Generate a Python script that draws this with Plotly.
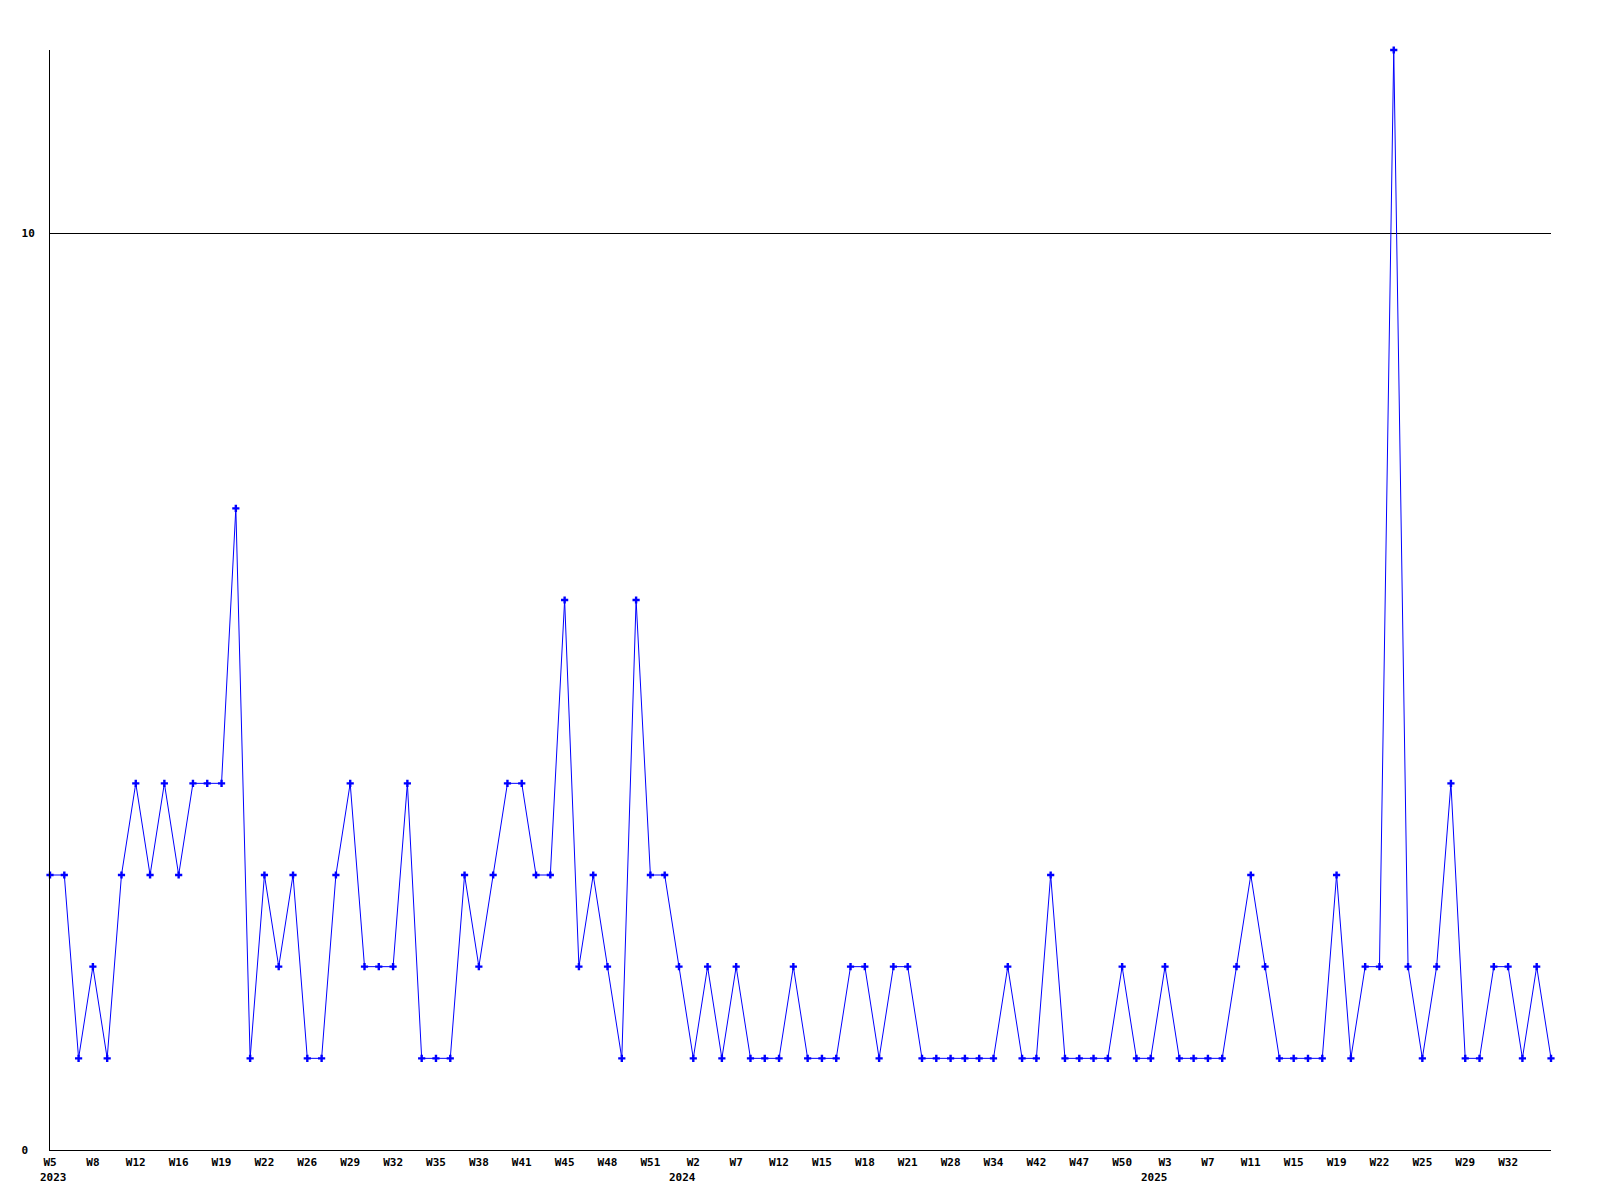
import plotly.graph_objects as go

# Weekly values (one point per reported week; weeks without data are skipped)
values = [
    3, 3, 1, 2, 1, 3, 4, 3, 4, 3, 4, 4, 4, 7, 1, 3, 2, 3, 1, 1,
    3, 4, 2, 2, 2, 4, 1, 1, 1, 3, 2, 3, 4, 4, 3, 3, 6, 2, 3, 2,
    1, 6, 3, 3, 2, 1, 2, 1, 2, 1, 1, 1, 2, 1, 1, 1, 2, 2, 1, 2,
    2, 1, 1, 1, 1, 1, 1, 2, 1, 1, 3, 1, 1, 1, 1, 2, 1, 1, 2, 1,
    1, 1, 1, 2, 3, 2, 1, 1, 1, 1, 3, 1, 2, 2, 12, 2, 1, 2, 4, 1,
    1, 2, 2, 1, 2, 1,
]

# Tick labels, shown on every third point
tick_labels = [
    "W5", "W8", "W12", "W16", "W19", "W22", "W26", "W29", "W32", "W35",
    "W38", "W41", "W45", "W48", "W51", "W2", "W7", "W12", "W15", "W18",
    "W21", "W28", "W34", "W42", "W47", "W50", "W3", "W7", "W11", "W15",
    "W19", "W22", "W25", "W29", "W32",
]
tick_step = 3

# Year labels and the index of the labelled point they sit under
year_labels = ["2023", "2024", "2025"]
year_positions = [0, 45, 78]

# Y axis ticks
y_tickvals = [0, 10]
y_ticktext = ["0&nbsp;", "10"]

x = list(range(len(values)))
tickvals = [i * tick_step for i in range(len(tick_labels))]

FONT = "DejaVu Sans Mono"

fig = go.Figure()
fig.add_trace(go.Scatter(
    x=x, y=values, mode="lines+markers",
    line=dict(color="#0000FF", width=1),
    marker=dict(symbol="cross", size=6, color="#0000FF", line=dict(width=0)),
    cliponaxis=False,
    showlegend=False,
    hoverinfo="x+y",
))

annotations = []
for yr, pos in zip(year_labels, year_positions):
    if pos == 0:
        anchor, shift = "left", -12
    else:
        anchor, shift = "right", 5
    annotations.append(dict(
        x=pos, xref="x", y=0, yref="paper", text=yr, showarrow=False,
        xanchor=anchor, yanchor="middle", xshift=shift, yshift=-27,
        font=dict(family=FONT, size=11, color="black", weight="bold"),
    ))

fig.update_layout(
    width=1600, height=1200,
    margin=dict(l=42, r=57, t=42, b=58, pad=0),
    paper_bgcolor="white", plot_bgcolor="white",
    annotations=annotations,
    xaxis=dict(
        range=[0, len(values) - 1],
        tickvals=tickvals, ticktext=tick_labels,
        showgrid=False, zeroline=False,
        showline=True, linecolor="black", linewidth=1,
        ticks="", ticklabelstandoff=2,
        tickfont=dict(family=FONT, size=11, color="black", weight="bold"),
        tickangle=0,
    ),
    yaxis=dict(
        range=[0, 12],
        tickvals=y_tickvals, ticktext=y_ticktext,
        showgrid=True, gridcolor="black", gridwidth=1,
        zeroline=False,
        showline=True, linecolor="black", linewidth=1,
        ticks="", ticklabelstandoff=12,
        tickfont=dict(family=FONT, size=11, color="black", weight="bold"),
    ),
)

fig.write_html("out.html")
